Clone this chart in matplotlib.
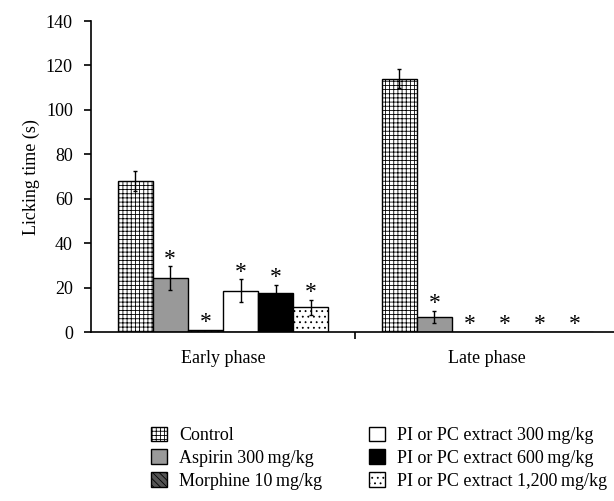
import numpy as np
import matplotlib
matplotlib.use("Agg")
import matplotlib.pyplot as plt

plt.rcParams['font.family'] = ['Liberation Serif', 'DejaVu Serif']
plt.rcParams['hatch.linewidth'] = 0.6

phases = ["Early phase", "Late phase"]
groups = ["Control", "Aspirin 300\u2009mg/kg", "Morphine 10\u2009mg/kg",
          "PI or PC extract 300\u2009mg/kg", "PI or PC extract 600\u2009mg/kg",
          "PI or PC extract 1,200\u2009mg/kg"]
# licking time (s): rows = groups, cols = phases
means = [[68.2, 114.0],
         [24.2, 6.8],
         [1.0, 0.0],
         [18.6, 0.0],
         [17.4, 0.0],
         [11.1, 0.0]]
errs = [[4.5, 4.2],
        [5.4, 2.8],
        [0.0, 0.0],
        [5.2, 0.0],
        [4.0, 0.0],
        [3.4, 0.0]]
signif = [[False, False],
          [True, True],
          [True, True],
          [True, True],
          [True, True],
          [True, True]]

faces = ["white", "#999999", "#555555", "white", "black", "white"]
hatches = ["++++", None, "\\\\\\\\\\", None, None, "..."]

fig = plt.figure(figsize=(6.14, 5.01), dpi=100)
ax = fig.add_axes([0.148, 0.337, 0.852, 0.621])

x = np.arange(len(phases))
w = 0.133
for i, g in enumerate(groups):
    pos = x + (i - 2.5) * w
    ax.bar(pos, means[i], w, color=faces[i], edgecolor="black",
           linewidth=1.0, hatch=hatches[i], label=g, zorder=2)
    for j in range(len(phases)):
        if errs[i][j] > 0:
            ax.errorbar(pos[j], means[i][j], yerr=errs[i][j], fmt="none",
                        ecolor="black", elinewidth=1.0, capsize=1.5, zorder=3)
        if signif[i][j]:
            ax.text(pos[j], means[i][j] + errs[i][j] - 1.5, "*",
                    ha="center", va="bottom", fontsize=17)

ax.set_xlim(-0.5, 1.48)
ax.set_ylim(0, 140)
ax.set_yticks(np.arange(0, 141, 20))
ax.set_ylabel("Licking time (s)", fontsize=13, labelpad=4)
ax.set_xticks([0.5])
ax.set_xticklabels([""])
ax.set_xticks(x, minor=True)
ax.set_xticklabels(phases, minor=True, fontsize=13)
ax.tick_params(axis="x", which="minor", length=0, pad=13)
ax.tick_params(axis="x", which="major", length=5, width=1.2, direction="out")
ax.tick_params(axis="y", length=5, width=1.2, labelsize=13, pad=8)
for s in ["top", "right"]:
    ax.spines[s].set_visible(False)
for s in ["left", "bottom"]:
    ax.spines[s].set_linewidth(1.2)

fig.legend(loc="lower left", bbox_to_anchor=(0.22, -0.01), ncol=2,
           frameon=False, fontsize=13, handlelength=0.85, handleheight=0.85,
           handletextpad=0.7, columnspacing=2.6, labelspacing=0.3)

fig.savefig("out.png", dpi=100)
